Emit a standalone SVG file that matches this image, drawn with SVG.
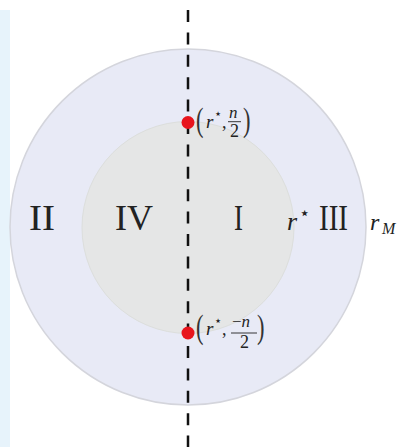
<svg xmlns="http://www.w3.org/2000/svg" width="401" height="447" viewBox="0 0 401 447">
<style>
.rom{font-family:"Liberation Serif","DejaVu Serif",serif;font-size:36px;fill:#222}
.m{font-family:"Liberation Serif","DejaVu Serif",serif;fill:#222}
.it{font-style:italic}
.par{font-family:"Liberation Serif","DejaVu Serif",serif;font-size:30px;fill:#333}
.dot{fill:#e8141c}
</style>
<rect x="0" y="10" width="10" height="437" fill="#e7f3fb"/>
<g id="outer"><circle cx="188" cy="227" r="178" fill="#e8eaf6" stroke="#d4d5dc" stroke-width="1.5"/></g>
<g id="inner"><circle cx="188" cy="227.5" r="106" fill="#e5e6e6" stroke="#dcdedc" stroke-width="1"/></g>
<g id="labels">
<text class="rom" x="29" y="230" textLength="26" lengthAdjust="spacingAndGlyphs">II</text>
<text class="rom" x="115" y="230" textLength="38" lengthAdjust="spacingAndGlyphs">IV</text>
<text class="rom" x="234" y="230" textLength="9" lengthAdjust="spacingAndGlyphs">I</text>
<text class="rom" x="319" y="230" textLength="29" lengthAdjust="spacingAndGlyphs">III</text>
<text class="m it" x="287" y="230" font-size="26">r</text>
<text class="m" x="299" y="219" font-size="18">⋆</text>
<text class="m it" x="370" y="230" font-size="24">r</text>
<text class="m it" x="382" y="234" font-size="16">M</text>
</g>
<g id="connectors">
<line x1="188" y1="10" x2="188" y2="447" stroke="#111" stroke-width="2.5" stroke-dasharray="12 10.4"/>
</g>
<g id="p1">
<circle class="dot" cx="188" cy="122.5" r="6.5"/>
<text class="par" x="196" y="131" transform="translate(196 131) scale(0.75 1.15) translate(-196 -131)">(</text>
<text class="m it" x="206" y="128" font-size="19">r</text>
<text class="m" x="214" y="118" font-size="13">⋆</text>
<text class="m" x="222" y="128" font-size="18">,</text>
<text class="m it" x="229" y="118" font-size="17">n</text>
<line x1="228" y1="121.7" x2="241" y2="121.7" stroke="#222" stroke-width="0.9"/>
<text class="m" x="230" y="136.5" font-size="18">2</text>
<text class="par" x="243" y="131" transform="translate(243 131) scale(0.75 1.15) translate(-243 -131)">)</text>
</g>
<g id="p2">
<circle class="dot" cx="188" cy="333" r="6.5"/>
<text class="par" x="196" y="338" transform="translate(196 338) scale(0.75 1.15) translate(-196 -338)">(</text>
<text class="m it" x="206" y="335" font-size="19">r</text>
<text class="m" x="214" y="325" font-size="13">⋆</text>
<text class="m" x="222" y="335" font-size="18">,</text>
<text class="m" x="232" y="327" font-size="17">−<tspan class="it">n</tspan></text>
<line x1="231" y1="333" x2="257" y2="333" stroke="#222" stroke-width="0.9"/>
<text class="m" x="240" y="347.5" font-size="18">2</text>
<text class="par" x="257" y="338" transform="translate(257 338) scale(0.75 1.15) translate(-257 -338)">)</text>
</g>
</svg>
